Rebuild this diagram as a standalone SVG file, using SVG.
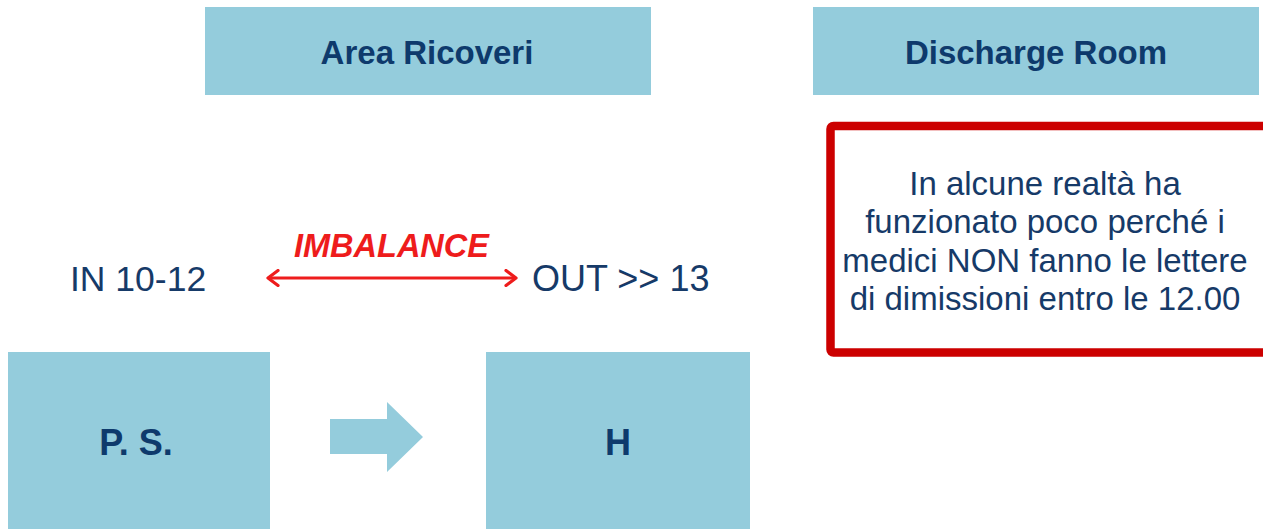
<svg xmlns="http://www.w3.org/2000/svg" width="1263" height="529" viewBox="0 0 1263 529">
  <style>
    .box { fill: #94ccdc; }
    .title { font-family: "Liberation Sans", Arial, sans-serif; font-weight: bold; fill: #0e3a6c; text-anchor: middle; }
    .plain { font-family: "Liberation Sans", Arial, sans-serif; fill: #163a68; }
    .note { font-family: "Liberation Sans", Arial, sans-serif; fill: #163a68; font-size: 33px; text-anchor: middle; }
  </style>
  <defs>
    <marker id="chev" viewBox="0 0 14 18" refX="12" refY="9" markerWidth="14" markerHeight="18" markerUnits="userSpaceOnUse" orient="auto-start-reverse">
      <path d="M2,1.5 L12,9 L2,16.5" fill="none" stroke="#ee1c1c" stroke-width="3.2" stroke-linecap="round" stroke-linejoin="round"/>
    </marker>
  </defs>
  <rect width="1263" height="529" fill="#ffffff"/>

  <g id="area-ricoveri">
    <rect class="box" x="205" y="7" width="446" height="88"/>
    <text class="title" x="427" y="64" font-size="33">Area Ricoveri</text>
  </g>

  <g id="discharge-room">
    <rect class="box" x="813" y="7" width="446" height="88"/>
    <text class="title" x="1036" y="64" font-size="33">Discharge Room</text>
  </g>

  <g id="note">
    <rect x="830.5" y="126" width="460" height="226.5" rx="3" fill="#ffffff" stroke="#cc0000" stroke-width="8.5"/>
    <text class="note" x="1045" y="195">In alcune realtà ha</text>
    <text class="note" x="1045" y="233">funzionato poco perché i</text>
    <text class="note" x="1045" y="272">medici NON fanno le lettere</text>
    <text class="note" x="1045" y="310">di dimissioni entro le 12.00</text>
  </g>

  <g id="in-label">
    <text class="plain" x="70" y="291" font-size="35.5">IN 10-12</text>
  </g>

  <g id="out-label">
    <text class="plain" x="532" y="291" font-size="36">OUT &gt;&gt; 13</text>
  </g>

  <g id="ps">
    <rect class="box" x="8" y="352" width="262" height="190"/>
    <text class="title" x="136" y="455" font-size="36">P. S.</text>
  </g>

  <g id="h">
    <rect class="box" x="486" y="352" width="264" height="190"/>
    <text class="title" x="618" y="455" font-size="36">H</text>
  </g>

  <g id="connectors">
    <path d="M330,419 H387 V402 L423,437 L387,472 V454 H330 Z" fill="#94ccdc"/>
    <line x1="268" y1="278" x2="516" y2="278" stroke="#ee1c1c" stroke-width="3" marker-start="url(#chev)" marker-end="url(#chev)"/>
    <text x="294" y="257" font-family="Liberation Sans, Arial, sans-serif" font-weight="bold" font-style="italic" font-size="32.5" fill="#ee1c1c">IMBALANCE</text>
  </g>
</svg>
